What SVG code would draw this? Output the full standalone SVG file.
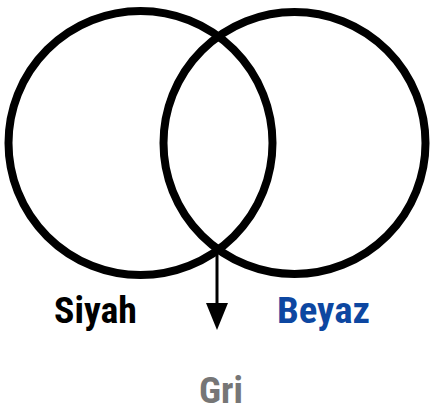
<svg xmlns="http://www.w3.org/2000/svg" width="430" height="414" viewBox="0 0 430 414">
  <style>
    .ring { fill: none; stroke: #000; stroke-width: 8; }
    .lbl { font-family: "Roboto Condensed", Roboto, "Liberation Sans", sans-serif; font-weight: 700; font-size: 37px; }
    .conn { stroke: #000; stroke-width: 3; fill: none; }
    .head { fill: #000; }
  </style>
  <rect width="430" height="414" fill="#fff"/>
  <g id="siyah">
    <circle class="ring" cx="140.5" cy="143" r="132"/>
    <text class="lbl" x="54" y="323" fill="#000" textLength="83" lengthAdjust="spacingAndGlyphs">Siyah</text>
  </g>
  <g id="beyaz">
    <circle class="ring" cx="294.5" cy="143" r="131"/>
    <text class="lbl" x="277" y="323" fill="#0D47A1" textLength="93" lengthAdjust="spacingAndGlyphs">Beyaz</text>
  </g>
  <g id="gri">
    <text class="lbl" x="199" y="403" fill="#767676" textLength="44" lengthAdjust="spacingAndGlyphs">Gri</text>
  </g>
  <g id="connectors">
    <path class="conn" d="M217,250 L217,304"/>
    <path class="head" d="M206,303 L228,303 L217,330 Z"/>
  </g>
</svg>
